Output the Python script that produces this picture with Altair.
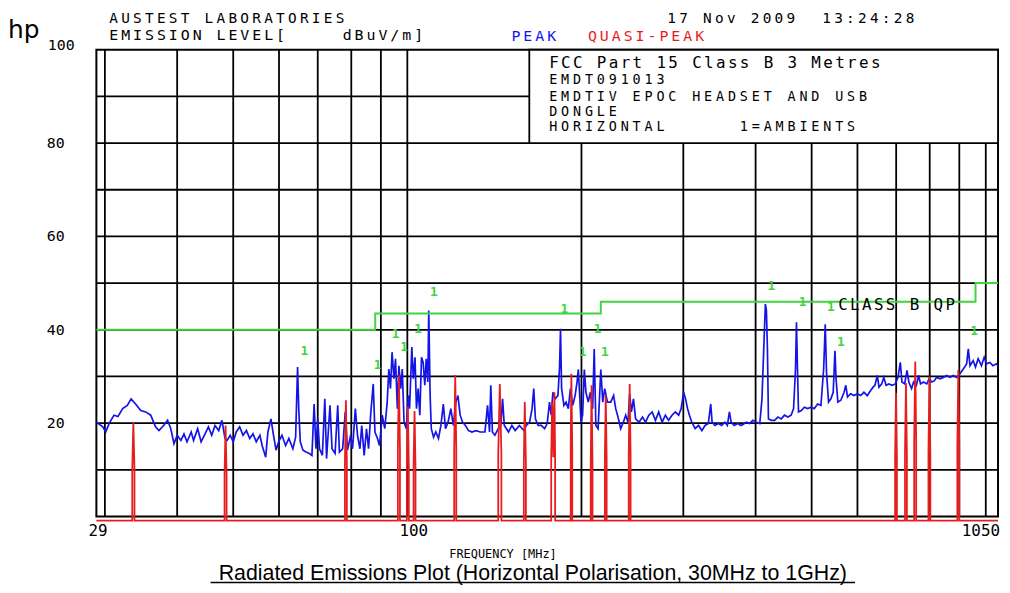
import altair as alt
import pandas as pd

# ---------------- data ----------------
peak_freq = [29.0, 29.75, 30.1, 30.5, 31.1, 31.6, 32.2, 32.8, 33.3, 33.9, 34.6, 35.3, 36.0, 36.7, 37.2, 37.9,
             38.5, 39.0, 39.5, 40.0, 40.6, 41.1, 41.6, 42.3, 42.7, 43.4, 44.0, 44.7, 45.3, 45.9, 46.5, 47.2,
             47.8, 48.4, 48.8, 49.4, 50.0, 50.6, 51.3, 52.0, 52.7, 53.4, 54.1, 54.8, 55.6, 56.1, 56.9, 57.4,
             58.1, 58.7, 59.3, 59.9, 60.7, 61.6, 62.4, 63.4, 64.1, 64.6, 64.9, 65.3, 66.0, 66.8, 67.7, 68.4,
             69.0, 69.5, 70.0, 70.5, 71.3, 72.0, 72.5, 73.5, 74.1, 75.0, 75.8, 76.3, 77.3, 78.1, 78.8, 79.8,
             80.4, 81.3, 82.0, 82.8, 83.4, 84.2, 85.0, 85.7, 86.4, 87.3, 87.9, 88.8, 89.5, 90.5, 91.4, 92.3,
             92.9, 93.5, 94.1, 94.8, 95.4, 96.1, 96.7, 97.4, 98.0, 98.7, 99.6, 100.4, 100.9, 101.8, 102.4, 103.1,
             103.7, 104.4, 105.1, 105.8, 106.5, 107.2, 107.8, 108.5, 108.9, 109.5, 110.0, 111.0, 112.0, 113.2, 114.3, 115.4,
             116.4, 117.6, 118.9, 120.1, 121.3, 122.3, 123.4, 124.6, 126.0, 127.6, 129.3, 131.4, 133.7, 136.2, 137.6, 138.7,
             139.4, 140.3, 141.7, 143.6, 145.1, 146.1, 147.1, 149.6, 151.6, 153.6, 156.2, 159.0, 160.6, 162.7, 164.3, 165.4,
             166.5, 168.3, 170.4, 172.7, 174.5, 176.1, 177.3, 178.5, 180.1, 182.1, 183.3, 184.0, 184.8, 186.5, 188.1, 189.8,
             191.4, 193.2, 195.0, 196.5, 197.5, 198.6, 199.6, 200.9, 202.3, 203.6, 205.5, 207.1, 209.1, 210.4, 211.8, 213.7,
             216.0, 217.7, 219.4, 221.8, 224.7, 227.3, 229.2, 231.3, 233.8, 236.3, 238.5, 240.7, 242.3, 244.0, 246.0, 248.1,
             251.5, 255.0, 258.1, 261.5, 265.0, 268.5, 272.0, 275.7, 279.3, 282.9, 286.8, 290.6, 294.5, 297.4, 300.4, 302.7,
             305.1, 307.4, 310.3, 314.5, 318.7, 323.0, 327.1, 331.4, 334.6, 336.4, 340.3, 344.8, 349.4, 354.1, 357.5, 360.4,
             362.9, 367.3, 372.4, 377.6, 382.7, 385.6, 390.5, 395.7, 401.3, 406.7, 410.3, 413.2, 415.9, 417.6, 419.3, 421.0,
             426.1, 431.4, 437.2, 443.0, 448.8, 454.8, 460.8, 465.3, 468.9, 470.7, 472.6, 474.5, 480.0, 485.7, 492.2, 499.0,
             505.3, 511.9, 518.8, 524.5, 527.8, 530.5, 534.8, 539.8, 544.8, 548.6, 551.0, 555.0, 561.5, 568.9, 572.8, 576.7,
             583.9, 591.8, 599.6, 607.8, 615.7, 624.0, 632.3, 638.6, 643.3, 649.4, 653.8, 660.9, 666.3, 672.4, 679.8, 688.7,
             697.7, 705.0, 711.7, 716.2, 724.0, 730.9, 736.1, 744.3, 750.3, 758.6, 765.6, 771.2, 780.5, 790.7, 798.2, 806.5,
             815.1, 822.4, 833.6, 844.7, 855.9, 867.3, 878.8, 890.5, 902.4, 914.3, 926.6, 932.8, 939.1, 951.1, 959.8, 970.1,
             982.9, 993.6, 1002.8, 1016.3, 1029.0, 1043.0, 1050.0]
peak_level = [20.2, 19.2, 18.1, 19.9, 21.7, 21.4, 23.1, 23.8, 25.2, 24.1, 22.7, 22.4, 21.7, 19.2, 18.4, 19.5,
              20.6, 18.8, 15.6, 17.4, 16.3, 17.7, 16.0, 18.1, 16.3, 18.8, 16.0, 17.7, 19.2, 17.4, 19.5, 18.4,
              20.6, 16.7, 16.3, 17.4, 16.0, 18.1, 19.2, 17.4, 18.4, 16.7, 17.7, 16.0, 17.4, 15.2, 12.7, 18.1,
              20.9, 17.4, 14.2, 16.0, 17.4, 15.2, 16.7, 14.5, 17.0, 32.0, 23.1, 16.0, 14.2, 13.8, 13.5, 13.1,
              24.1, 14.5, 20.9, 14.5, 13.1, 25.2, 12.4, 23.8, 14.5, 13.5, 23.8, 13.8, 14.5, 22.4, 14.2, 17.4,
              14.5, 23.1, 17.4, 14.5, 19.5, 13.1, 18.8, 14.5, 21.7, 28.4, 18.1, 16.7, 15.2, 21.7, 18.8, 24.5,
              31.6, 27.4, 35.2, 29.5, 33.8, 23.1, 32.3, 27.4, 31.6, 20.2, 18.8, 25.9, 23.1, 36.3, 29.5, 34.1,
              23.1, 27.4, 21.7, 34.1, 33.0, 28.1, 33.8, 28.8, 44.1, 25.9, 18.8, 17.0, 18.1, 16.7, 19.5, 24.1,
              18.8, 20.2, 23.1, 19.5, 24.5, 25.9, 21.7, 20.2, 19.5, 18.4, 18.1, 18.4, 18.1, 18.1, 23.8, 18.1,
              28.1, 18.1, 17.4, 18.8, 19.5, 25.2, 19.5, 18.1, 19.5, 18.4, 19.5, 18.4, 19.5, 20.2, 23.1, 27.4,
              20.9, 19.5, 19.5, 18.8, 19.9, 24.5, 21.7, 26.6, 25.2, 25.9, 32.0, 40.2, 27.4, 23.8, 24.5, 23.1,
              27.4, 23.8, 25.9, 28.8, 31.5, 25.9, 20.2, 21.7, 31.5, 26.6, 24.5, 26.6, 23.1, 35.9, 19.5, 18.8,
              31.5, 24.5, 27.4, 24.5, 24.5, 25.9, 23.1, 21.3, 18.8, 20.2, 21.7, 20.2, 26.3, 22.4, 25.2, 20.9,
              20.2, 21.3, 20.2, 21.7, 22.4, 20.6, 22.4, 20.2, 21.7, 20.6, 21.7, 22.4, 21.7, 23.1, 26.6, 25.2,
              23.1, 21.7, 20.2, 18.8, 19.5, 18.4, 19.5, 19.9, 24.1, 20.2, 19.5, 19.9, 19.5, 20.2, 19.5, 22.4,
              20.2, 19.5, 19.9, 19.5, 19.9, 20.2, 19.9, 20.6, 20.2, 19.9, 25.2, 35.9, 45.5, 44.1, 35.9, 20.9,
              20.6, 20.6, 21.3, 20.9, 21.7, 21.3, 21.7, 23.1, 31.6, 41.6, 31.6, 22.4, 22.7, 23.4, 23.1, 23.4,
              23.1, 24.1, 23.8, 31.6, 41.2, 30.9, 24.5, 25.2, 26.6, 35.5, 29.5, 24.5, 24.9, 26.6, 28.1, 25.6,
              26.3, 25.9, 26.3, 25.9, 26.6, 25.9, 27.0, 27.7, 28.1, 30.2, 27.7, 28.4, 29.8, 28.1, 28.4, 28.1,
              28.4, 29.8, 33.0, 28.8, 28.4, 31.3, 28.8, 27.4, 28.8, 28.1, 30.2, 28.4, 28.8, 28.4, 29.5, 28.8,
              29.1, 29.8, 29.5, 29.8, 30.2, 29.8, 30.2, 29.8, 30.6, 31.6, 32.7, 35.9, 32.3, 33.4, 32.0, 33.8,
              32.3, 34.1, 32.7, 33.0, 32.3, 32.7, 32.3]

qp_freq = [29.0,
           33.45, 33.45, 33.6, 33.75, 33.75,
           48.3, 48.3, 48.5, 48.7, 48.7,
           78.0, 78.0, 78.3, 78.6, 78.6,
           96.3, 96.3, 96.7, 97.1, 97.1,
           99.8, 99.8, 100.2, 100.6, 100.6,
           102.5, 102.5, 102.9, 103.3, 103.3,
           120.5, 120.5, 121.0, 121.5, 121.5,
           143.6, 143.6, 144.5, 145.4, 145.4,
           159.0, 159.0, 159.6, 160.3, 160.3,
           177.3, 177.3, 178.0, 178.8, 179.6, 180.1, 180.1,
           191.6, 191.6, 192.1, 192.8, 192.8,
           207.5, 207.5, 208.2, 209.0, 209.0,
           219.5, 219.5, 220.3, 221.1, 221.1,
           241.4, 241.4, 242.3, 243.2, 243.2,
           697.0, 697.0, 699.5, 702.0, 702.0,
           725.0, 725.0, 727.8, 730.5, 730.5,
           752.0, 752.0, 755.3, 758.0, 758.0,
           796.0, 796.0, 799.0, 802.0, 802.0,
           893.0, 893.0, 896.4, 900.0, 900.0,
           1050.0]
qp_level = [-0.9,
            -0.9, 9.9, 20.2, 9.9, -0.9,
            -0.9, 8.8, 19.5, 8.8, -0.9,
            -0.9, 11.5, 24.9, 11.5, -0.9,
            -0.9, 14.5, 30.2, 14.5, -0.9,
            -0.9, 10.6, 23.5, 10.6, -0.9,
            -0.9, 10.6, 22.6, 10.6, -0.9,
            -0.9, 14.5, 30.3, 14.5, -0.9,
            -0.9, 13.5, 28.4, 13.5, -0.9,
            -0.9, 11.7, 24.5, 11.7, -0.9,
            -0.9, 12.7, 24.5, 12.7, 26.6, 12.7, -0.9,
            -0.9, 14.5, 30.6, 14.5, -0.9,
            -0.9, 11.0, 28.1, 11.0, -0.9,
            -0.9, 12.0, 25.9, 12.0, -0.9,
            -0.9, 13.1, 28.4, 13.1, -0.9,
            -0.9, 12.4, 26.5, 12.4, -0.9,
            -0.9, 13.5, 28.6, 13.5, -0.9,
            -0.9, 16.0, 33.2, 16.0, -0.9,
            -0.9, 13.5, 30.0, 13.5, -0.9,
            -0.9, 14.9, 31.4, 14.9, -0.9,
            -0.9]

limit_freq = [29, 88, 88, 216, 216, 960, 960, 1050]
limit_level = [40, 40, 43.5, 43.5, 46, 46, 50, 50]

ambient_freq = [66.4, 88.8, 95.4, 98.7, 104.4, 111.1, 186.8, 201.0, 213.2, 219.5, 425.9, 482.5, 539.8, 561.6, 954.9]
ambient_level = [35.5, 32.5, 39.1, 36.3, 40.2, 48.1, 44.4, 35.3, 40.2, 35.3, 49.4, 45.9, 44.8, 37.3, 39.8]
ambient_mark = "1"

grid_freq = [30, 40, 50, 60, 70, 80, 90, 100, 200, 300, 400, 500, 600, 700, 800, 900, 1000]
grid_level = [10, 20, 30, 40, 50, 60, 70, 80, 90]
x_tick_values = [29, 100, 1050]
x_tick_labels = ["29", "100", "1050"]
y_tick_values = [20, 40, 60, 80, 100]
y_tick_labels = ["20", "40", "60", "80", "100"]

logo_text = "hp"
lab_name = "AUSTEST LABORATORIES"
level_label = "EMISSION LEVEL["
unit_label = "dBuV/m]"
peak_label = "PEAK"
qp_label = "QUASI-PEAK"
date_label = "17 Nov 2009  13:24:28"
box_lines = ["FCC Part 15 Class B 3 Metres", "EMDT091013", "EMDTIV EPOC HEADSET AND USB",
             "DONGLE", "HORIZONTAL      1=AMBIENTS"]
limit_label = "CLASS B QP"
x_title = "FREQUENCY [MHz]"
caption = "Radiated Emissions Plot (Horizontal Polarisation, 30MHz to 1GHz)"

assert len(peak_freq) == len(peak_level)
assert len(qp_freq) == len(qp_level)

# ---------------- styles / layout ----------------
MONO = "DejaVu Sans Mono"
BLACK = "#000000"
BLUE = "#1414e6"
RED = "#e61e1e"
GREEN = "#40d440"
CELL = 12  # plotter character pitch (px)
GRID_W = 1.8

# plotter-style text lines: (text, left px, centre y px, font size, colour), relative to plot origin
PLOTTER_TEXT = [
    (lab_name, 13, -31, 14.5, BLACK),
    (level_label, 13, -14.5, 15, BLACK),
    (unit_label, 248, -14.5, 15, BLACK),
    (peak_label, 418, -14, 15, BLUE),
    (qp_label, 495, -14, 15, RED),
    (date_label, 575, -31, 14.5, BLACK),
    (box_lines[0], 456, 13, 16, BLACK),
    (box_lines[1], 456, 31, 13.5, BLACK),
    (box_lines[2], 456, 48, 13.5, BLACK),
    (box_lines[3], 456, 63, 13.5, BLACK),
    (box_lines[4], 456, 78, 13.5, BLACK),
    (limit_label, 747, 257, 16, BLACK),
]
LEGEND_BOX = {"f0": 162.5, "f1": 1050, "l0": 80, "l1": 100}

rows = []
for text, x0, yc, fs, col in PLOTTER_TEXT:
    for i, ch in enumerate(text):
        if ch != " ":
            rows.append({"ch": ch, "px": x0 + i * CELL, "py": yc, "fs": fs, "col": col})
chars_df = pd.DataFrame(rows)

xs = alt.Scale(type="log", domain=[29, 1050], nice=False)
ys = alt.Scale(domain=[0, 100], nice=False, zero=False)


def X(field):
    return alt.X(field, scale=xs, axis=None)


def Y(field):
    return alt.Y(field, scale=ys, axis=None)


peak_df = pd.DataFrame({"freq": peak_freq, "level": peak_level, "i": range(len(peak_freq))})
qp_df = pd.DataFrame({"freq": qp_freq, "level": qp_level, "i": range(len(qp_freq))})
lim_df = pd.DataFrame({"freq": limit_freq, "level": limit_level, "i": range(len(limit_freq))})
amb_df = pd.DataFrame({"freq": ambient_freq, "level": ambient_level, "t": [ambient_mark] * len(ambient_freq)})
xt_df = pd.DataFrame({"freq": x_tick_values, "t": x_tick_labels})
yt_df = pd.DataFrame({"level": y_tick_values, "t": y_tick_labels})

grid_v = alt.Chart(pd.DataFrame({"freq": grid_freq})).mark_rule(color=BLACK, strokeWidth=GRID_W).encode(
    x=X("freq:Q"))
grid_h = alt.Chart(pd.DataFrame({"level": grid_level})).mark_rule(color=BLACK, strokeWidth=GRID_W).encode(
    y=Y("level:Q"))

box = alt.Chart(pd.DataFrame([LEGEND_BOX])).mark_rect(fill="white", stroke=BLACK, strokeWidth=GRID_W).encode(
    x=X("f0:Q"), x2="f1:Q", y=Y("l0:Q"), y2="l1:Q")

peak = alt.Chart(peak_df).mark_line(color=BLUE, strokeWidth=1.7).encode(
    x=X("freq:Q"), y=Y("level:Q"), order="i:Q")
qp = alt.Chart(qp_df).mark_line(color=RED, strokeWidth=1.8).encode(
    x=X("freq:Q"), y=Y("level:Q"), order="i:Q")
limit = alt.Chart(lim_df).mark_line(color=GREEN, strokeWidth=2).encode(
    x=X("freq:Q"), y=Y("level:Q"), order="i:Q")

amb = alt.Chart(amb_df).mark_text(font=MONO, fontSize=13, fontWeight="bold", color=GREEN,
                                  baseline="middle").encode(
    x=X("freq:Q"), y=Y("level:Q"), text="t:N")

# tick labels (positioned through the scales)
xt_left = alt.Chart(xt_df).transform_filter("datum.freq < 1000").mark_text(
    font=MONO, fontSize=16, align="left", baseline="middle", dx=-8, dy=15, color=BLACK).encode(
    x=X("freq:Q"), y=alt.value(470), text="t:N")
xt_right = alt.Chart(xt_df).transform_filter("datum.freq >= 1000").mark_text(
    font=MONO, fontSize=16, align="right", baseline="middle", dx=2, dy=15, color=BLACK).encode(
    x=X("freq:Q"), y=alt.value(470), text="t:N")
yt_main = alt.Chart(yt_df).transform_filter("datum.level < 100").mark_text(
    font=MONO, fontSize=15, align="left", baseline="middle", color=BLACK).encode(
    x=alt.value(-50), y=Y("level:Q"), text="t:N")
yt_top = alt.Chart(yt_df).transform_filter("datum.level >= 100").mark_text(
    font=MONO, fontSize=15, align="left", baseline="middle", dy=-5, color=BLACK).encode(
    x=alt.value(-49), y=Y("level:Q"), text="t:N")

xtitle = alt.Chart(pd.DataFrame({"t": [x_title]})).mark_text(
    font=MONO, fontSize=12, align="center", baseline="middle", color=BLACK).encode(
    x=alt.value(409.5), y=alt.value(508), text="t:N")

chars = alt.Chart(chars_df).mark_text(font=MONO, align="left", baseline="middle").encode(
    x=alt.X("px:Q", scale=None, axis=None),
    y=alt.Y("py:Q", scale=None, axis=None),
    text="ch:N",
    size=alt.Size("fs:Q", scale=None, legend=None),
    color=alt.Color("col:N", scale=None, legend=None))

logo = alt.Chart(pd.DataFrame({"t": [logo_text]})).mark_text(
    font="DejaVu Sans", fontSize=25, align="left", baseline="alphabetic", color=BLACK).encode(
    x=alt.value(-89), y=alt.value(-12), text="t:N")

cap_df = pd.DataFrame({"t": [caption]})
cap = alt.Chart(cap_df).mark_text(font="Liberation Sans", fontSize=21.5, align="center",
                                  baseline="alphabetic", color=BLACK).encode(
    x=alt.value(439.5), y=alt.value(534), text="t:N")
underline = alt.Chart(cap_df).mark_rule(color=BLACK, strokeWidth=1.3).encode(
    x=alt.value(115), x2=alt.value(764), y=alt.value(536.5))

chart = alt.layer(grid_v, grid_h, box, peak, qp, limit, amb, xt_left, xt_right, yt_main, yt_top,
                  xtitle, chars, logo, cap, underline).properties(
    width=908, height=470,
    autosize=alt.AutoSizeParams(type="none"),
    padding={"left": 89, "top": 40, "right": 4, "bottom": 68},
    background="white",
).configure_view(stroke=BLACK, strokeWidth=2)

chart.save("out.html", embed_options={"renderer": "svg", "actions": False})
